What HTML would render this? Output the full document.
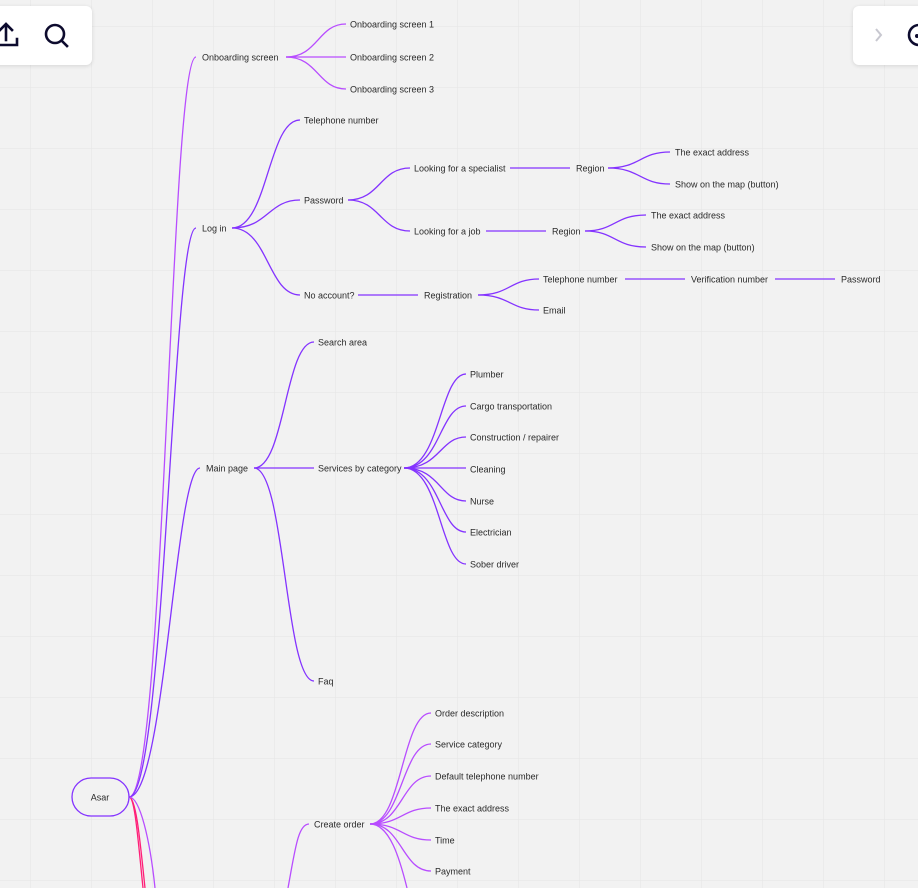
<!DOCTYPE html>
<html><head><meta charset="utf-8"><style>
html,body{margin:0;padding:0;width:918px;height:888px;overflow:hidden;background:#f2f2f2;}
svg{position:absolute;left:0;top:0;}
text{font-family:"Liberation Sans",sans-serif;font-size:9px;fill:#2a2a2a;dominant-baseline:middle;}
.panel{position:absolute;background:#fff;border-radius:6px;box-shadow:0 1px 4px rgba(0,0,0,0.12);}
</style></head><body>
<svg width="918" height="888" viewBox="0 0 918 888">
<defs>
<pattern id="g" x="30" y="26" width="61" height="61" patternUnits="userSpaceOnUse">
<path d="M0 0 V61 M0 0 H61" stroke="#e4e4e4" stroke-width="1" fill="none"/>
</pattern>
</defs>
<rect width="918" height="888" fill="url(#g)"/>
<g fill="none" stroke-width="1.3">
<path d="M129 797 C165 797 170 57 196 57" stroke="#b84dff"/>
<path d="M129 797 C165 797 172 228 196 228" stroke="#8433ff"/>
<path d="M129 797 C165 797 175 468 200 468" stroke="#8433ff"/>
<path d="M129 797 C135 797 138 840 143 888" stroke="#ff1f78"/>
<path d="M129 797 C136 797 140 840 145 888" stroke="#ff1f78"/>
<path d="M129 797 C140 797 150 840 155 888" stroke="#b84dff"/>
<g stroke="#b84dff">
<path d="M286 57 C318 57 318 24 346 24"/>
<path d="M286 57 H346"/>
<path d="M286 57 C318 57 318 89 346 89"/>
</g>
<g stroke="#8433ff">
<path d="M232 228 C268 228 268 120 300 120"/>
<path d="M232 228 C268 228 268 200 300 200"/>
<path d="M232 228 C268 228 268 295 300 295"/>
<path d="M348 200 C380 200 380 168 410 168"/>
<path d="M348 200 C380 200 380 231 410 231"/>
<path d="M510 168 H570"/>
<path d="M608 168 C640 168 640 152 670 152"/>
<path d="M608 168 C640 168 640 184 670 184"/>
<path d="M486 231 H546"/>
<path d="M585 231 C615 231 615 215 646 215"/>
<path d="M585 231 C615 231 615 247 646 247"/>
<path d="M358 295 H418"/>
<path d="M478 295 C510 295 510 279 539 279"/>
<path d="M478 295 C510 295 510 310 539 310"/>
<path d="M625 279 H685"/>
<path d="M775 279 H835"/>
</g>
<g stroke="#8433ff">
<path d="M254 468 C285 468 285 342 314 342"/>
<path d="M254 468 H314"/>
<path d="M254 468 C285 468 285 681 314 681"/>
<path d="M404 468 C440 468 440 374 466 374"/>
<path d="M404 468 C440 468 440 406 466 406"/>
<path d="M404 468 C440 468 440 437 466 437"/>
<path d="M404 468 H466"/>
<path d="M404 468 C440 468 440 501 466 501"/>
<path d="M404 468 C440 468 440 532 466 532"/>
<path d="M404 468 C440 468 440 564 466 564"/>
</g>
<g stroke="#b84dff">
<path d="M288 888 C295 850 298 824 309 824"/>
<path d="M370 824 C402 824 402 713 431 713"/>
<path d="M370 824 C402 824 402 744 431 744"/>
<path d="M370 824 C402 824 402 776 431 776"/>
<path d="M370 824 C402 824 402 808 431 808"/>
<path d="M370 824 C402 824 402 840 431 840"/>
<path d="M370 824 C402 824 402 871 431 871"/>
<path d="M370 824 C390 824 400 860 407 888"/>
</g>
</g>
<rect x="72" y="778" width="57" height="38" rx="19" fill="#f2f2f2" stroke="#8433ff" stroke-width="1.3"/>
<text x="100" y="798" text-anchor="middle">Asar</text>
<g transform="translate(0,1)">
<text x="202" y="57">Onboarding screen</text>
<text x="350" y="24">Onboarding screen 1</text>
<text x="350" y="57">Onboarding screen 2</text>
<text x="350" y="89">Onboarding screen 3</text>
<text x="202" y="228">Log in</text>
<text x="304" y="120">Telephone number</text>
<text x="304" y="200">Password</text>
<text x="304" y="295">No account?</text>
<text x="414" y="168">Looking for a specialist</text>
<text x="414" y="231">Looking for a job</text>
<text x="576" y="168">Region</text>
<text x="552" y="231">Region</text>
<text x="675" y="152">The exact address</text>
<text x="675" y="184">Show on the map (button)</text>
<text x="651" y="215">The exact address</text>
<text x="651" y="247">Show on the map (button)</text>
<text x="424" y="295">Registration</text>
<text x="543" y="279">Telephone number</text>
<text x="543" y="310">Email</text>
<text x="691" y="279">Verification number</text>
<text x="841" y="279">Password</text>
<text x="206" y="468">Main page</text>
<text x="318" y="342">Search area</text>
<text x="318" y="468">Services by category</text>
<text x="318" y="681">Faq</text>
<text x="470" y="374">Plumber</text>
<text x="470" y="406">Cargo transportation</text>
<text x="470" y="437">Construction / repairer</text>
<text x="470" y="469">Cleaning</text>
<text x="470" y="501">Nurse</text>
<text x="470" y="532">Electrician</text>
<text x="470" y="564">Sober driver</text>
<text x="314" y="824">Create order</text>
<text x="435" y="713">Order description</text>
<text x="435" y="744">Service category</text>
<text x="435" y="776">Default telephone number</text>
<text x="435" y="808">The exact address</text>
<text x="435" y="840">Time</text>
<text x="435" y="871">Payment</text>
</g>
</svg>
<div class="panel" style="left:-10px;top:6px;width:102px;height:59px;">
<svg width="102" height="59" style="position:absolute;left:0;top:0">
<g fill="none" stroke="#0d0b2e" stroke-width="2.6" stroke-linecap="square">
<path d="M16 19 V34"/>
<path d="M10 24 L16 18 L22 24"/>
<path d="M4 39 H27 V33"/>
<circle cx="65" cy="28" r="9"/>
<path d="M72 35 L77 40"/>
</g>
</svg>
</div>
<div class="panel" style="left:853px;top:6px;width:80px;height:59px;">
<svg width="80" height="59" style="position:absolute;left:0;top:0">
<path d="M23 23 L28 29 L23 35" fill="none" stroke="#c8c8d0" stroke-width="2"/>
<circle cx="66" cy="29" r="10" fill="none" stroke="#0d0b2e" stroke-width="2.6"/>
<circle cx="64" cy="30" r="2" fill="#0d0b2e"/>
</svg>
</div>
</body></html>
